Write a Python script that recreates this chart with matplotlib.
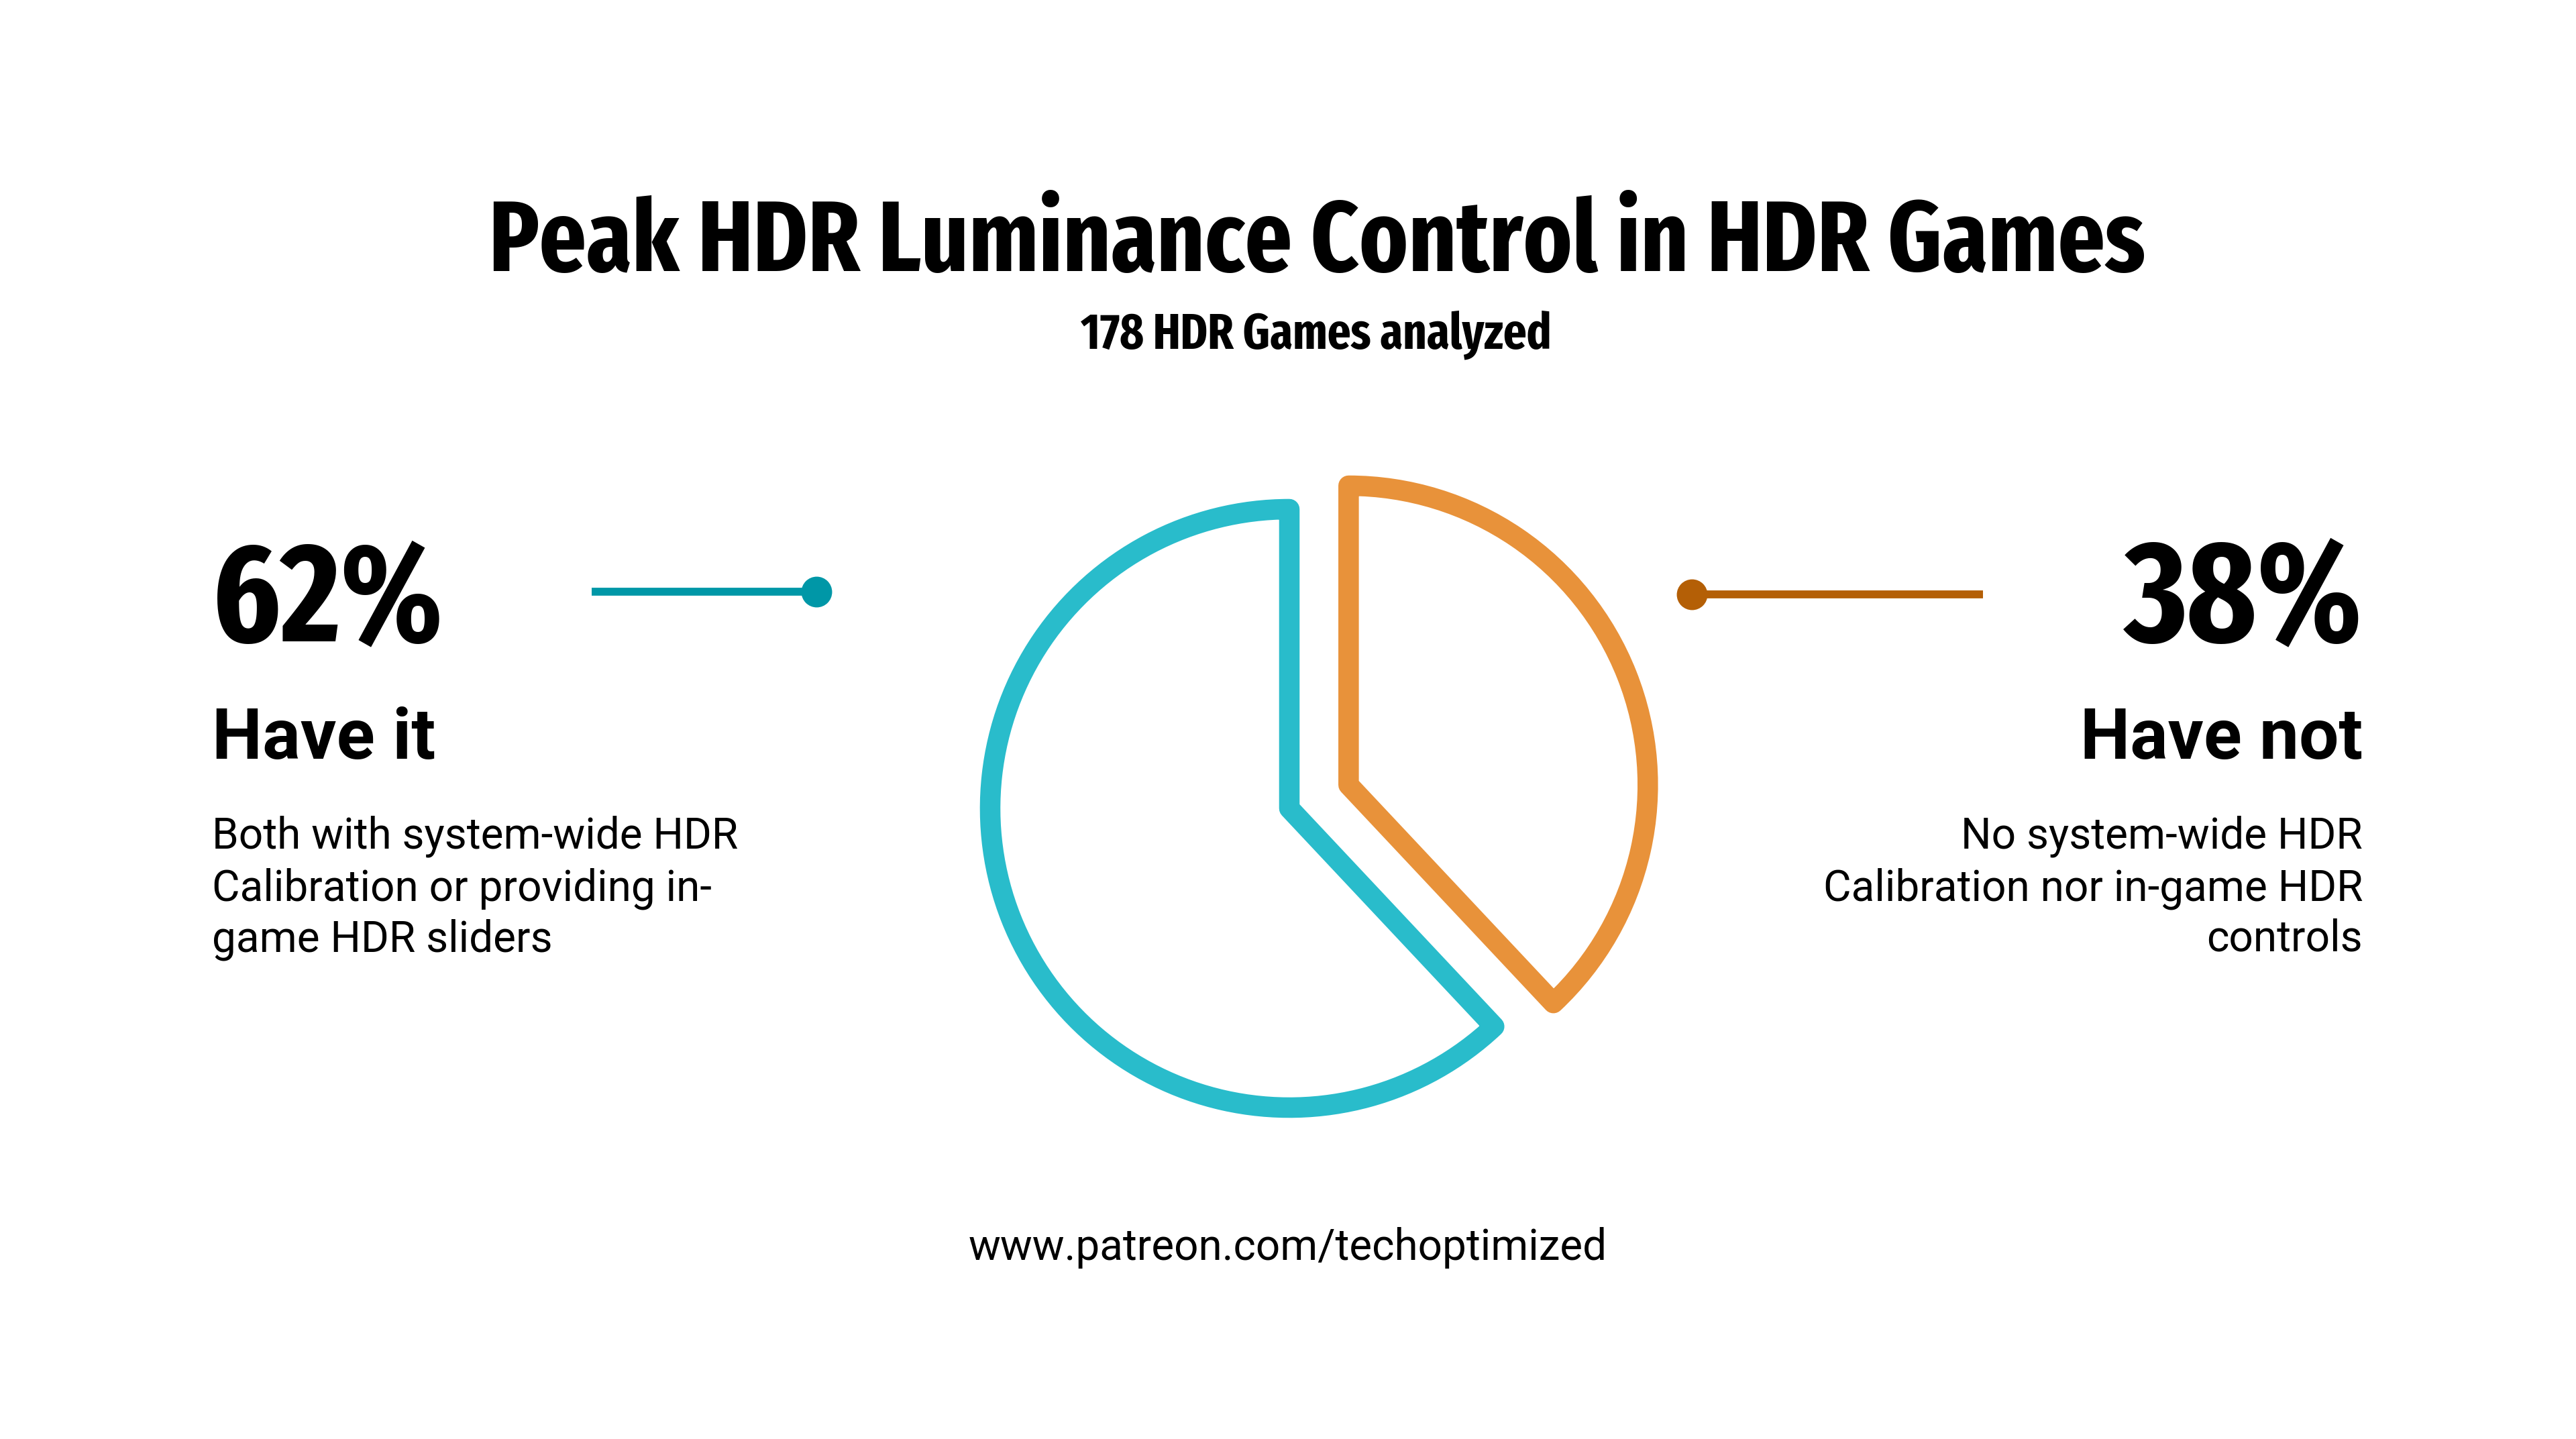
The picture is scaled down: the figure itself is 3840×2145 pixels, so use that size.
import matplotlib
matplotlib.use("Agg")
import matplotlib.pyplot as plt
from matplotlib import font_manager

# Data
n_games = 178
categories = ["Have it", "Have not"]
values = [62, 38]
descriptions = [
    ["Both with system-wide HDR", "Calibration or providing in-", "game HDR sliders"],
    ["No system-wide HDR", "Calibration nor in-game HDR", "controls"],
]
title = "Peak HDR Luminance Control in HDR Games"
footer = "www.patreon.com/techoptimized"

# Styles
wedge_colors = ["#29BCCB", "#E8923A"]
line_colors = ["#0097A7", "#B45F06"]

installed = {f.name for f in font_manager.fontManager.ttflist}


def pick(*names):
    for n in names:
        if n in installed:
            return n
    return "DejaVu Sans"


NARROW = pick("Fira Sans Extra Condensed", "Roboto Condensed", "Liberation Sans Narrow", "DejaVu Sans")
BODY = pick("Roboto", "Liberation Sans", "DejaVu Sans")

W, H = 3840, 2145
fig = plt.figure(figsize=(W / 100, H / 100), dpi=100)
ax = fig.add_axes([0, 0, 1, 1])
ax.set_xlim(0, W)
ax.set_ylim(0, H)
ax.set_aspect("equal")
ax.axis("off")
renderer = fig.canvas.get_renderer()


def Y(y):
    return H - y


def put(x, y, s, width, **kw):
    # place text at baseline, then scale its size to the target width
    t = ax.text(x, Y(y), s, va="baseline", fontsize=40, **kw)
    w = t.get_window_extent(renderer=renderer).width
    t.set_fontsize(40 * width / w)
    return t


# Title block
put(1963, 404, title, 2466, ha="center", family=NARROW, weight="bold")
put(1962, 519, f"{n_games} HDR Games analyzed", 701, ha="center", family=NARROW, weight="bold")

# Pie: orange slice first, clockwise from top, pulled out
radius = 446
wedges, _ = ax.pie(
    values[::-1],
    colors=["white", "white"],
    startangle=90,
    counterclock=False,
    explode=[0.213 * radius, 0],  # matplotlib does not scale explode by radius
    center=(1922, Y(1205)),
    radius=radius,
    frame=True,
)
for wdg, c in zip(wedges, wedge_colors[::-1]):
    wdg.set_edgecolor(c)
    wdg.set_linewidth(22)
    wdg.set_joinstyle("round")
ax.set_xlim(0, W)
ax.set_ylim(0, H)
ax.axis("off")

# Left side: Have it
body_base = [1264, 1342, 1418]
put(316, 955, f"{values[0]}%", 345, ha="left", family=NARROW, weight="bold")
put(316, 1131, categories[0], 333, ha="left", family=BODY, weight="bold")
t0 = put(316, body_base[0], descriptions[0][0], 784, ha="left", family=BODY)
for yb, s in zip(body_base[1:], descriptions[0][1:]):
    ax.text(316, Y(yb), s, va="baseline", ha="left", family=BODY, fontsize=t0.get_fontsize())

ax.plot([882, 1217], [Y(882), Y(882)], color=line_colors[0], lw=8.5, solid_capstyle="butt")
ax.plot([1217], [Y(882)], "o", color=line_colors[0], ms=32)

# Right side: Have not
put(3522, 955, f"{values[1]}%", 355, ha="right", family=NARROW, weight="bold")
put(3522, 1131, categories[1], 421, ha="right", family=BODY, weight="bold")
for yb, s in zip(body_base, descriptions[1]):
    ax.text(3522, Y(yb), s, va="baseline", ha="right", family=BODY, fontsize=t0.get_fontsize())

ax.plot([2522, 2956], [Y(886), Y(886)], color=line_colors[1], lw=8.5, solid_capstyle="butt")
ax.plot([2522], [Y(886)], "o", color=line_colors[1], ms=32)

# Footer
put(1920, 1878, footer, 950, ha="center", family=BODY)

fig.savefig("out.png", dpi=100, facecolor="white")
